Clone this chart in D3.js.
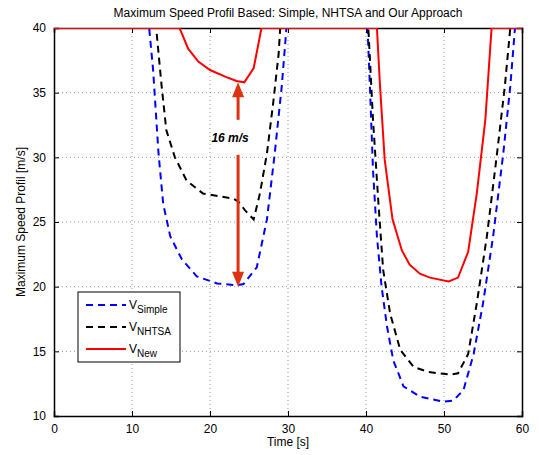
<!DOCTYPE html>
<meta charset="utf-8">
<style>
body { margin: 0; background: #fff; }
text { font-family: "Liberation Sans", Arial, sans-serif; }
</style>
<body>
<script src="https://cdn.jsdelivr.net/npm/d3@7"></script>
<script>

// values
var tSimple = [0, 12.2, 12.7, 13.4, 14.0, 14.9, 16.4, 18.3, 20.9, 23.4, 24.3, 26.0, 27.3, 28.3, 29.2, 29.8,
               40.2, 40.5, 40.9, 41.4, 42.0, 42.7, 43.5, 44.8, 46.9, 49.9, 51.2, 52.5, 53.8, 55.0, 56.3, 57.6, 58.5, 59.1, 60];
var vSimple = [40, 40, 36.8, 30.3, 26.4, 23.9, 22.1, 20.8, 20.25, 20.1, 20.2, 21.5, 25.2, 30.3, 35.5, 40,
               40, 35.5, 29, 23.9, 20, 16.9, 14.3, 12.3, 11.5, 11.1, 11.2, 12.0, 14.8, 18.7, 23.9, 30.3, 35.5, 40, 40];

var tNhtsa = [0, 13.1, 13.8, 14.4, 15.5, 17.0, 19.1, 23.0, 23.6, 24.5, 25.6, 26.4, 27.3, 28.1, 28.8, 29.0,
              40.3, 40.9, 41.6, 42.2, 43.1, 44.4, 46.1, 48.0, 50.8, 51.8, 53.1, 54.2, 55.5, 56.8, 57.8, 58.5, 60];
var vNhtsa = [40, 40, 35.5, 32.1, 30.0, 28.2, 27.2, 26.8, 26.6, 25.9, 25.2, 27.2, 30.3, 34.2, 38, 40,
              40, 32.9, 26.4, 21.3, 17.9, 15.1, 13.8, 13.4, 13.2, 13.3, 14.8, 18.7, 23.9, 30.3, 35.5, 40, 40];

var tNew = [0, 16.1, 17.2, 18.5, 20.0, 22.1, 23.4, 24.4, 25.6, 26.6,
            41.4, 41.8, 42.4, 43.4, 44.6, 45.6, 46.9, 48.2, 50.6, 51.8, 53.1, 54.2, 55.3, 56.1, 60];
var vNew = [40, 40, 38.4, 37.4, 36.75, 36.2, 35.9, 35.8, 36.9, 40,
            40, 35.5, 29.8, 25.2, 22.8, 21.7, 21.0, 20.7, 20.4, 20.7, 22.7, 27.2, 32.9, 40, 40];

var xTicks = [0, 10, 20, 30, 40, 50, 60];
var yTicks = [10, 15, 20, 25, 30, 35, 40];

var arrowT = 23.6, arrowFrom = 20, arrowTo = 35.8, arrowLabel = "16 m/s";

var width = 539, height = 455;
var margin = {top: 28, right: 17, bottom: 39, left: 54};
var w = width - margin.left - margin.right,
    h = height - margin.top - margin.bottom;

var svg = d3.select("body").append("svg")
    .attr("width", width)
    .attr("height", height);

var x = d3.scaleLinear().domain([0, 60]).range([0, w]);
var y = d3.scaleLinear().domain([10, 40]).range([h, 0]);

var g = svg.append("g")
    .attr("transform", "translate(" + margin.left + "," + margin.top + ")");

svg.append("defs").append("clipPath").attr("id", "clip")
  .append("rect").attr("width", w).attr("height", h);

// grid
g.append("g").selectAll("line").data(xTicks.slice(1, -1)).enter().append("line")
    .attr("x1", function(d) { return x(d); }).attr("x2", function(d) { return x(d); })
    .attr("y1", 0).attr("y2", h)
    .attr("stroke", "#555").attr("stroke-width", 0.6).attr("stroke-dasharray", "1,3");
g.append("g").selectAll("line").data(yTicks.slice(1, -1)).enter().append("line")
    .attr("y1", function(d) { return y(d); }).attr("y2", function(d) { return y(d); })
    .attr("x1", 0).attr("x2", w)
    .attr("stroke", "#555").attr("stroke-width", 0.6).attr("stroke-dasharray", "1,3");

// axes
var xAxis = g.append("g").attr("transform", "translate(0," + h + ")")
    .call(d3.axisBottom(x).tickValues(xTicks).tickSize(-5).tickPadding(8));
var xTop = g.append("g")
    .call(d3.axisTop(x).tickValues(xTicks).tickSize(-5).tickFormat(""));
var yAxis = g.append("g")
    .call(d3.axisLeft(y).tickValues(yTicks).tickSize(-5).tickPadding(8));
var yRight = g.append("g").attr("transform", "translate(" + w + ",0)")
    .call(d3.axisRight(y).tickValues(yTicks).tickSize(-5).tickFormat(""));

g.selectAll(".domain").attr("stroke", "#000").attr("stroke-width", 1.5);
g.selectAll(".tick line").attr("stroke", "#000");
g.selectAll(".tick text").attr("font-size", 12).attr("fill", "#000")
    .style("font-family", "Liberation Sans, Arial, sans-serif");

// lines
var line = d3.line()
    .x(function(d) { return x(d[0]); })
    .y(function(d) { return y(d[1]); });

var series = [
  {t: tSimple, v: vSimple, color: "#0000ff", dash: "7,5", name: "Simple"},
  {t: tNhtsa, v: vNhtsa, color: "#000000", dash: "7,5", name: "NHTSA"},
  {t: tNew, v: vNew, color: "#ff0000", dash: null, name: "New"}
];

var plot = g.append("g").attr("clip-path", "url(#clip)");
series.forEach(function(s) {
  plot.append("path")
      .datum(d3.zip(s.t, s.v))
      .attr("fill", "none")
      .attr("stroke", s.color)
      .attr("stroke-width", 2)
      .attr("stroke-dasharray", s.dash)
      .attr("d", line);
});

// annotation arrow
var ac = "#dd3311";
var ax = x(arrowT);
var labelY = y((arrowFrom + arrowTo) / 2 + 3.3);
g.append("line").attr("x1", ax).attr("x2", ax)
    .attr("y1", y(arrowTo) + 12).attr("y2", labelY - 22)
    .attr("stroke", ac).attr("stroke-width", 3);
g.append("line").attr("x1", ax).attr("x2", ax)
    .attr("y1", labelY + 13).attr("y2", y(arrowFrom) - 12)
    .attr("stroke", ac).attr("stroke-width", 3);
g.append("path")
    .attr("d", "M" + ax + "," + y(arrowTo) + "l-6,15l12,0z")
    .attr("fill", ac);
g.append("path")
    .attr("d", "M" + ax + "," + y(arrowFrom) + "l-6,-15l12,0z")
    .attr("fill", ac);
g.append("text")
    .attr("x", ax - 8).attr("y", labelY)
    .attr("text-anchor", "middle")
    .attr("font-size", 12).attr("font-weight", "bold").attr("font-style", "italic")
    .text(arrowLabel);

// legend
var lg = g.append("g").attr("transform", "translate(" + (78 - margin.left) + "," + (292 - margin.top) + ")");
lg.append("rect").attr("width", 102).attr("height", 70)
    .attr("fill", "#fff").attr("stroke", "#000").attr("stroke-width", 1);
series.forEach(function(s, i) {
  var ly = 13 + i * 22;
  lg.append("line").attr("x1", 8).attr("x2", 48).attr("y1", ly).attr("y2", ly)
      .attr("stroke", s.color).attr("stroke-width", 2).attr("stroke-dasharray", s.dash);
  var t = lg.append("text").attr("x", 51).attr("y", ly + 4).attr("font-size", 12);
  t.append("tspan").text("V");
  t.append("tspan").attr("font-size", 10).attr("dy", 4).text(s.name);
});

// titles
svg.append("text")
    .attr("x", margin.left + w / 2).attr("y", 17)
    .attr("text-anchor", "middle").attr("font-size", 12)
    .text("Maximum Speed Profil Based: Simple, NHTSA and Our Approach");
svg.append("text")
    .attr("x", margin.left + w / 2).attr("y", 446)
    .attr("text-anchor", "middle").attr("font-size", 12)
    .text("Time [s]");
svg.append("text")
    .attr("transform", "translate(25," + (margin.top + h / 2) + ") rotate(-90)")
    .attr("text-anchor", "middle").attr("font-size", 12)
    .text("Maximum Speed Profil [m/s]");

</script>
</body>
